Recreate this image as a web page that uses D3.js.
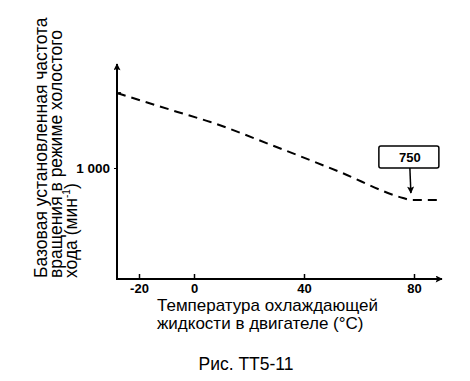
<!DOCTYPE html>
<html>
<head>
<meta charset="utf-8">
<script src="https://cdn.jsdelivr.net/npm/d3@7"></script>
<style>
  body { margin: 0; background: #fff; }
  svg { font-family: "Liberation Sans", Arial, sans-serif; }
</style>
</head>
<body>
<svg id="chart" width="470" height="381"></svg>
<script>
// curve: coolant temperature (C) vs idle speed (rpm)
const temps = [-28, -6, 6, 30, 53, 76, 79, 90];
const rpm   = [1586, 1438, 1359, 1164, 969, 766, 750, 750];
const xTicks = [-20, 0, 40, 80];
const yTicks = [1000];
const plateau = 750;

let chart = d3.select("#chart");

let x = d3.scaleLinear()
    .domain([-28, 88])
    .range([117, 436]);

let y = d3.scaleLinear()
    .domain([750, 1000])
    .range([200, 168]);

const axisY0 = 279;   // bottom of the plot (x axis line)
const axisTop = 64;

// arrow heads
let defs = chart.append("defs");
defs.append("marker")
    .attr("id", "arr")
    .attr("viewBox", "0 0 10 10")
    .attr("refX", 9).attr("refY", 5)
    .attr("markerWidth", 9).attr("markerHeight", 7)
    .attr("markerUnits", "userSpaceOnUse")
    .attr("orient", "auto")
  .append("path")
    .attr("d", "M0,0 L10,5 L0,10 L2,5 Z")
    .attr("fill", "#000");

// axis lines
chart.append("line")
    .attr("x1", x(-28)).attr("y1", axisY0)
    .attr("x2", x(-28)).attr("y2", axisTop)
    .attr("stroke", "#000").attr("stroke-width", 2)
    .attr("marker-end", "url(#arr)");
chart.append("line")
    .attr("x1", x(-28) - 1).attr("y1", axisY0)
    .attr("x2", 442).attr("y2", axisY0)
    .attr("stroke", "#000").attr("stroke-width", 2)
    .attr("marker-end", "url(#arr)");

// x axis ticks
let xAxis = d3.axisBottom(x)
    .tickValues(xTicks)
    .tickSizeInner(-5)
    .tickSizeOuter(0)
    .tickPadding(5)
    .tickFormat(d => d < 0 ? "-" + Math.abs(d) : d);
let xg = chart.append("g")
    .attr("transform", "translate(0," + axisY0 + ")")
    .call(xAxis);
xg.select(".domain").remove();
xg.selectAll("line").attr("stroke-width", 1.5);
xg.selectAll("text")
    .style("font-size", "13px")
    .style("font-weight", "bold")
    .attr("fill", "#000");

// y axis tick
let yAxis = d3.axisLeft(y)
    .tickValues(yTicks)
    .tickSizeInner(3)
    .tickSizeOuter(0)
    .tickPadding(4)
    .tickFormat(() => "1 000");
let yg = chart.append("g")
    .attr("transform", "translate(" + x(-28) + ",0)")
    .call(yAxis);
yg.select(".domain").remove();
yg.selectAll("text")
    .style("font-size", "13.5px")
    .style("font-weight", "bold")
    .attr("fill", "#000");

// dashed curve
let line = d3.line()
    .x((d, i) => x(temps[i]))
    .y((d, i) => y(rpm[i]))
    .curve(d3.curveMonotoneX);
chart.append("path")
    .datum(rpm)
    .attr("d", line)
    .attr("fill", "none")
    .attr("stroke", "#000")
    .attr("stroke-width", 2)
    .attr("stroke-dasharray", "9,6");
// little hook where the curve meets the axis
chart.append("path")
    .attr("d", "M" + x(-28) + "," + (y(rpm[0]) + 2) + " q1,-3 4,-2")
    .attr("fill", "none")
    .attr("stroke", "#000")
    .attr("stroke-width", 1.5);

// 750 callout
let bx = x(78.5), by = y(plateau);
chart.append("rect")
    .attr("x", bx - 31).attr("y", by - 54)
    .attr("width", 60).attr("height", 22)
    .attr("rx", 2)
    .attr("fill", "#fff")
    .attr("stroke", "#000")
    .attr("stroke-width", 1.5);
chart.append("text")
    .text(plateau)
    .attr("x", bx).attr("y", by - 38)
    .style("text-anchor", "middle")
    .style("font-size", "13px")
    .style("font-weight", "bold");
chart.append("line")
    .attr("x1", bx).attr("y1", by - 32)
    .attr("x2", bx + 1).attr("y2", by - 7)
    .attr("stroke", "#000").attr("stroke-width", 1.5)
    .attr("marker-end", "url(#arr)");

// axis titles
let yTitle = chart.append("text")
    .attr("transform", "translate(47,278) rotate(-90)")
    .style("font-size", "17.5px")
    .style("text-anchor", "start");
["Базовая установленная частота", "вращения в режиме холостого"].forEach((t, i) => {
    yTitle.append("tspan").attr("x", 0).attr("y", i * 15).text(t);
});
yTitle.append("tspan").attr("x", 0).attr("y", 30).text("хода (мин");
yTitle.append("tspan").text("-1").attr("dy", -7).style("font-size", "10px");
yTitle.append("tspan").text(")").attr("dy", 7);

let xTitle = chart.append("text")
    .style("font-size", "17px")
    .style("text-anchor", "start");
xTitle.append("tspan").attr("x", 157).attr("y", 311).text("Температура охлаждающей");
xTitle.append("tspan").attr("x", 157).attr("y", 329).text("жидкости в двигателе (°С)");

chart.append("text")
    .text("Рис. ТТ5-11")
    .attr("x", 246).attr("y", 370)
    .style("text-anchor", "middle")
    .style("font-size", "17.5px");
</script>
</body>
</html>
